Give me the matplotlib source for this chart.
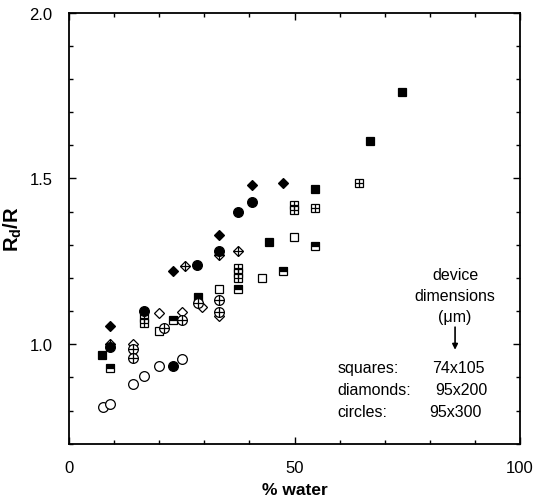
import matplotlib
matplotlib.use("Agg")
import matplotlib.pyplot as plt
from matplotlib.ticker import MultipleLocator

plt.rcParams['font.family'] = ['Liberation Sans', 'DejaVu Sans']
plt.rcParams['mathtext.fontset'] = 'custom'
plt.rcParams['mathtext.rm'] = 'Liberation Sans'
plt.rcParams['mathtext.bf'] = 'Liberation Sans:bold'
plt.rcParams['mathtext.it'] = 'Liberation Sans:italic'

# ---- data (x = % water, y = Rd/R) ----
sq_filled_x = [7.4, 28.6, 44.4, 54.5, 66.7, 73.8]
sq_filled_y = [0.969, 1.143, 1.307, 1.467, 1.612, 1.760]
sq_half_x = [9.1, 23.1, 37.5, 47.5, 54.5]
sq_half_y = [0.927, 1.072, 1.166, 1.221, 1.295]
sq_hatch_x = [16.7, 16.7, 37.5, 37.5, 37.5, 49.9, 49.9, 54.5, 64.3]
sq_hatch_y = [1.080, 1.065, 1.230, 1.215, 1.200, 1.420, 1.405, 1.411, 1.485]
sq_open_x = [20.0, 33.3, 42.8, 49.9]
sq_open_y = [1.040, 1.166, 1.201, 1.322]

di_filled_x = [9.1, 23.1, 33.3, 40.5, 47.4]
di_filled_y = [1.055, 1.220, 1.330, 1.480, 1.486]
di_cross_x = [9.1, 25.8, 33.3, 37.5]
di_cross_y = [1.002, 1.235, 1.268, 1.281]
di_open_x = [14.3, 20.0, 25.1, 29.5, 33.3]
di_open_y = [1.002, 1.094, 1.098, 1.111, 1.085]

ci_filled_x = [9.1, 16.7, 23.1, 28.4, 33.3, 37.5, 40.5]
ci_filled_y = [0.993, 1.100, 0.934, 1.238, 1.282, 1.400, 1.430]
ci_cross_x = [14.3, 14.3, 21.1, 25.1, 28.5, 33.3, 33.3]
ci_cross_y = [0.985, 0.958, 1.050, 1.073, 1.123, 1.133, 1.096]
ci_open_x = [7.6, 9.1, 14.3, 16.7, 20.0, 25.1]
ci_open_y = [0.810, 0.819, 0.880, 0.904, 0.935, 0.955]

fig = plt.figure(figsize=(5.34, 5.02), dpi=100)
ax = fig.add_axes([0.1292, 0.114, 0.8446, 0.859])

k = 'black'
ms_s = 6.0
ms_d = 6.5
ms_c = 7.0
mew = 0.9

# squares
ax.plot(sq_filled_x, sq_filled_y, 's', ms=ms_s, mfc=k, mec=k, mew=mew, ls='none')
ax.plot(sq_half_x, sq_half_y, 's', ms=ms_s, mfc=k, mfcalt='white', fillstyle='top', mec=k, mew=mew, ls='none')
ax.plot(sq_hatch_x, sq_hatch_y, 's', ms=ms_s, mfc='white', mec=k, mew=mew, ls='none')
ax.plot(sq_hatch_x, sq_hatch_y, '+', ms=ms_s, mec=k, mew=mew, ls='none')
ax.plot(sq_open_x, sq_open_y, 's', ms=ms_s, mfc='white', mec=k, mew=mew, ls='none')

# diamonds
ax.plot(di_filled_x, di_filled_y, 'D', ms=ms_d * 0.8, mfc=k, mec=k, mew=mew, ls='none')
ax.plot(di_open_x, di_open_y, 'D', ms=ms_d * 0.8, mfc='white', mec=k, mew=mew, ls='none')
ax.plot(di_cross_x, di_cross_y, 'D', ms=ms_d * 0.8, mfc='white', mec=k, mew=mew, ls='none')
ax.plot(di_cross_x, di_cross_y, '+', ms=ms_d * 1.1, mec=k, mew=mew, ls='none')

# circles
ax.plot(ci_filled_x, ci_filled_y, 'o', ms=ms_c, mfc=k, mec=k, mew=mew, ls='none')
ax.plot(ci_cross_x, ci_cross_y, 'o', ms=ms_c, mfc='white', mec=k, mew=mew, ls='none')
ax.plot(ci_cross_x, ci_cross_y, '+', ms=ms_c, mec=k, mew=mew, ls='none')
ax.plot(ci_open_x, ci_open_y, 'o', ms=ms_c, mfc='white', mec=k, mew=mew, ls='none')

ax.set_xlim(0, 100)
ax.set_ylim(0.7, 2.0)
ax.xaxis.set_major_locator(MultipleLocator(50))
ax.xaxis.set_minor_locator(MultipleLocator(10))
ax.yaxis.set_major_locator(MultipleLocator(0.5))
ax.yaxis.set_minor_locator(MultipleLocator(0.1))
ax.tick_params(which='both', direction='in', top=True, right=True, labelsize=12, width=1.0, colors=k)
ax.tick_params(which='major', length=5, pad=12)
ax.tick_params(which='minor', length=3)
ax.set_yticks([1.0, 1.5, 2.0])
ax.set_yticklabels(['1.0', '1.5', '2.0'])
for s in ax.spines.values():
    s.set_linewidth(1.3)

ax.set_xlabel('% water', fontsize=12.5, fontweight='bold', labelpad=5)
ax.set_ylabel(r'$\mathbf{R_{d}/R}$', fontsize=14.5, labelpad=4)

# annotation
ax.text(85.6, 1.148, 'device\ndimensions\n(\u03bcm)', ha='center', va='center', fontsize=11.5, linespacing=1.5)
ax.annotate('', xy=(85.6, 0.975), xytext=(85.6, 1.06),
            arrowprops=dict(arrowstyle='-|>', color=k, lw=1.2, mutation_scale=8))
rows = [('squares:', '74x105'), ('diamonds:', '95x200'), ('circles:', '95x300')]
ys = [0.930, 0.864, 0.797]
for (a, b), y in zip(rows, ys):
    ax.text(59.5, y, a, ha='left', va='center', fontsize=11.5)
ax.text(80.5, ys[0], rows[0][1], ha='left', va='center', fontsize=11.5)
ax.text(81.2, ys[1], rows[1][1], ha='left', va='center', fontsize=11.5)
ax.text(79.8, ys[2], rows[2][1], ha='left', va='center', fontsize=11.5)

fig.savefig('out.png', dpi=100)
